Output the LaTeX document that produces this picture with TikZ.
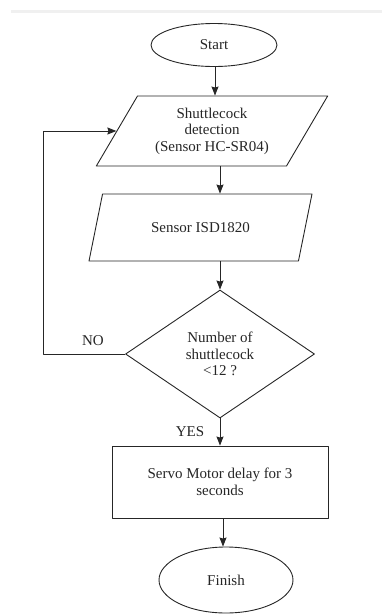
\documentclass[tikz,border=0pt]{standalone}
\usepackage{fontspec}
\setmainfont{Liberation Serif}
\usetikzlibrary{shapes.geometric,arrows.meta}
\begin{document}
\begin{tikzpicture}[x=1pt,y=-1pt,>={Stealth[length=9pt,width=7pt,inset=1pt]},line join=round,
	font=\fontsize{15}{16.5}\selectfont,text=black!85,
	every node/.style={draw=black!85,line width=0.9pt,align=center,inner sep=0pt},
	terminal/.style={ellipse},
	inout/.style={trapezium,trapezium left angle=56,trapezium right angle=124,
		trapezium stretches=true},
	decision/.style={diamond,aspect=1.48},
	process/.style={rectangle},
	flow/.style={->,line width=0.9pt,draw=black!85}]
	\useasboundingbox (0,0) rectangle (382,614);
	\fill [black!6] (11,10) rectangle (382,13);
	% shapes
	\node [terminal,minimum width=126pt,minimum height=43pt] (start) at (214,45) {Start};
	\node [inout,minimum width=232pt,minimum height=70pt] (detect) at (212,131)
		{Shuttlecock\\detection\\(Sensor HC-SR04)};
	\node [inout,minimum width=223pt,minimum height=67pt] (sensor) at (200.5,227.5)
		{Sensor ISD1820};
	\node [decision,minimum width=189pt,minimum height=128pt] (count) at (220,354)
		{Number of\\shuttlecock\\<12 ?};
	\node [process,minimum width=216pt,minimum height=72pt] (servo) at (220,482)
		{Servo Motor delay for 3\\seconds};
	\node [terminal,minimum width=134pt,minimum height=66pt] (finish) at (226,580) {Finish};
	% labels
	\node [draw=none] (no) at (93,341) {NO};
	\node [draw=none] (yes) at (190,432) {YES};
	% connectors
	\draw [flow] (215,0 |- start.south) -- (215,0 |- detect.north);
	\draw [flow] (220,0 |- detect.south) -- (220,0 |- sensor.north);
	\draw [flow] (sensor.south -| count.north) -- (count.north);
	\draw [flow] (count.south) -- (servo.north);
	\draw [flow] (223,0 |- servo.south) -- (223,0 |- finish.north);
	\draw [flow] (count.west) -- (43,0 |- count.west) |- (detect.west);
\end{tikzpicture}
\end{document}
